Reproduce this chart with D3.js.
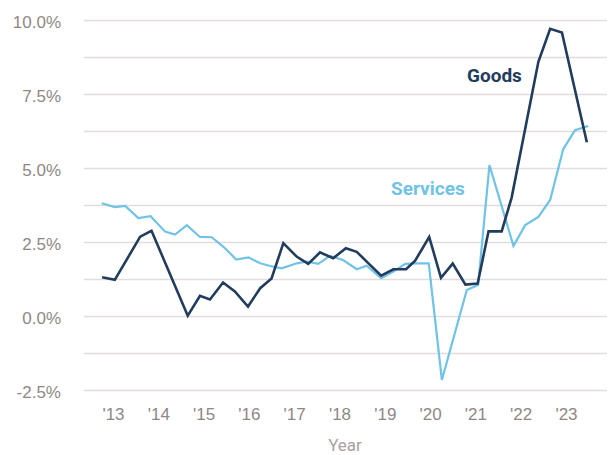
<!DOCTYPE html>
<html>
<head>
<meta charset="utf-8">
<script src="https://cdn.jsdelivr.net/npm/d3@7"></script>
<style>
  html, body { margin: 0; padding: 0; background: #ffffff; }
  svg { display: block; font-family: Roboto, "Noto Sans", sans-serif; }
</style>
</head>
<body>
<svg id="chart" width="608" height="455"></svg>
<script>
// Year-over-year inflation, goods vs. services (percent), by decimal year
const goodsYears = [2012.76, 2013.04, 2013.60, 2013.85, 2014.65, 2014.92, 2015.14, 2015.43, 2015.69, 2015.98,
  2016.25, 2016.50, 2016.76, 2017.06, 2017.31, 2017.57, 2017.86, 2018.14, 2018.38, 2018.64,
  2018.92, 2019.19, 2019.47, 2019.67, 2019.98, 2020.24, 2020.50, 2020.78, 2021.05, 2021.29,
  2021.58, 2021.80, 2022.39, 2022.65, 2022.91, 2023.46];
const goodsRates = [1.31, 1.22, 2.68, 2.88, 0.01, 0.68, 0.56, 1.13, 0.83, 0.32,
  0.94, 1.27, 2.46, 2.00, 1.76, 2.15, 1.95, 2.29, 2.17, 1.78,
  1.36, 1.58, 1.58, 1.87, 2.67, 1.29, 1.77, 1.06, 1.10, 2.86,
  2.86, 4.00, 8.59, 9.70, 9.58, 5.87];

const servicesYears = [2012.75, 2013.04, 2013.27, 2013.56, 2013.83, 2014.15, 2014.37, 2014.63, 2014.92, 2015.18,
  2015.45, 2015.72, 2015.99, 2016.25, 2016.47, 2016.72, 2017.06, 2017.28, 2017.53, 2017.79,
  2018.08, 2018.38, 2018.60, 2018.92, 2019.19, 2019.45, 2019.70, 2019.97, 2020.26, 2020.81,
  2021.06, 2021.31, 2021.84, 2022.10, 2022.39, 2022.65, 2022.94, 2023.20, 2023.49];
const servicesRates = [3.81, 3.68, 3.72, 3.31, 3.37, 2.85, 2.75, 3.07, 2.67, 2.66,
  2.32, 1.91, 1.98, 1.78, 1.69, 1.61, 1.78, 1.84, 1.76, 2.03,
  1.89, 1.58, 1.70, 1.28, 1.50, 1.76, 1.78, 1.78, -2.16, 0.88,
  1.05, 5.10, 2.37, 3.07, 3.35, 3.92, 5.64, 6.28, 6.42];

const yearTicks = [2013, 2014, 2015, 2016, 2017, 2018, 2019, 2020, 2021, 2022, 2023];
const rateTicks = [-2.5, -1.25, 0, 1.25, 2.5, 3.75, 5, 6.25, 7.5, 8.75, 10];
const labeledRates = [-2.5, 0, 2.5, 5, 7.5, 10];

const goodsColor = "#223c5e";
const servicesColor = "#70c2e6";
const gridColor = "#e2dcd9";
const tickColor = "#8f8785";

const svg = d3.select("#chart");
const gridLeft = 84, gridRight = 607;

const x = d3.scaleLinear().domain([2013, 2023]).range([113, 566]);
const y = d3.scaleLinear().domain([-2.5, 10]).range([390, 20]);

// Horizontal gridlines and percentage labels
const yAxis = d3.axisLeft(y)
  .tickValues(rateTicks)
  .tickSize(-(gridRight - gridLeft))
  .tickPadding(23)
  .tickFormat(d => labeledRates.includes(d) ? d.toFixed(1) + "%" : "");

const gy = svg.append("g")
  .attr("transform", `translate(${gridLeft},0)`)
  .call(yAxis);
gy.select(".domain").remove();
gy.selectAll(".tick line")
  .attr("stroke", gridColor)
  .attr("stroke-width", 1.6);
gy.selectAll(".tick text")
  .attr("fill", tickColor)
  .attr("font-size", 17)
  .attr("dy", "0.42em");

// Year labels along the bottom
const xAxis = d3.axisBottom(x)
  .tickValues(yearTicks)
  .tickSize(0)
  .tickPadding(18)
  .tickFormat(d => "'" + String(d).slice(2));

const gx = svg.append("g")
  .attr("transform", `translate(0,${y(-2.5)})`)
  .call(xAxis);
gx.select(".domain").remove();
gx.selectAll(".tick text")
  .attr("fill", tickColor)
  .attr("font-size", 17);

svg.append("text")
  .attr("x", 345)
  .attr("y", 451)
  .attr("text-anchor", "middle")
  .attr("fill", "#a8a19f")
  .attr("font-size", 17)
  .text("Year");

// Series lines
const line = d3.line()
  .x(d => x(d[0]))
  .y(d => y(d[1]));

const servicesData = d3.zip(servicesYears, servicesRates);
const goodsData = d3.zip(goodsYears, goodsRates);

svg.append("path")
  .datum(servicesData)
  .attr("fill", "none")
  .attr("stroke", servicesColor)
  .attr("stroke-width", 2.2)
  .attr("stroke-linejoin", "miter")
  .attr("d", line);

svg.append("path")
  .datum(goodsData)
  .attr("fill", "none")
  .attr("stroke", goodsColor)
  .attr("stroke-width", 2.6)
  .attr("stroke-linejoin", "miter")
  .attr("d", line);

// Series labels
svg.append("text")
  .attr("x", 467)
  .attr("y", 82)
  .attr("fill", goodsColor)
  .attr("font-size", 19)
  .attr("font-weight", 700)
  .text("Goods");

svg.append("text")
  .attr("x", 391)
  .attr("y", 195)
  .attr("fill", servicesColor)
  .attr("font-size", 19)
  .attr("font-weight", 700)
  .text("Services");
</script>
</body>
</html>
